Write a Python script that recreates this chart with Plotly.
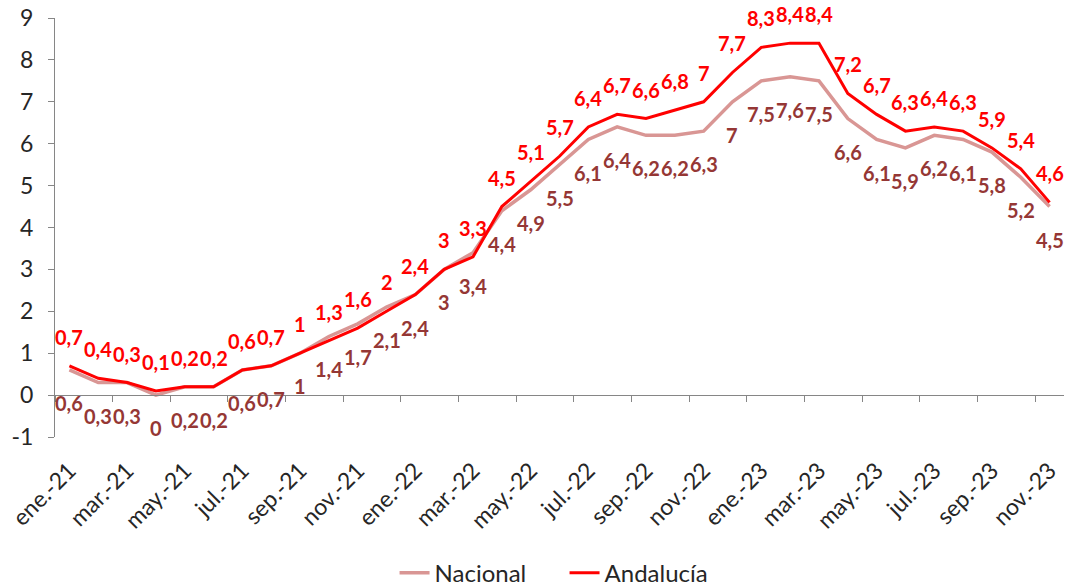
import plotly.graph_objects as go

months = ["ene.-21","feb.-21","mar.-21","abr.-21","may.-21","jun.-21","jul.-21","ago.-21","sep.-21","oct.-21","nov.-21","dic.-21",
          "ene.-22","feb.-22","mar.-22","abr.-22","may.-22","jun.-22","jul.-22","ago.-22","sep.-22","oct.-22","nov.-22","dic.-22",
          "ene.-23","feb.-23","mar.-23","abr.-23","may.-23","jun.-23","jul.-23","ago.-23","sep.-23","oct.-23","nov.-23"]
nacional = [0.6,0.3,0.3,0,0.2,0.2,0.6,0.7,1,1.4,1.7,2.1,
            2.4,3,3.4,4.4,4.9,5.5,6.1,6.4,6.2,6.2,6.3,7,
            7.5,7.6,7.5,6.6,6.1,5.9,6.2,6.1,5.8,5.2,4.5]
andalucia = [0.7,0.4,0.3,0.1,0.2,0.2,0.6,0.7,1,1.3,1.6,2,
             2.4,3,3.3,4.5,5.1,5.7,6.4,6.7,6.6,6.8,7,7.7,
             8.3,8.4,8.4,7.2,6.7,6.3,6.4,6.3,5.9,5.4,4.6]
tick_labels = months[::2]
y_ticks = [-1, 0, 1, 2, 3, 4, 5, 6, 7, 8, 9]
y_tick_text = ["-1", "0", "1", "2", "3", "4", "5", "6", "7", "8", "9"]

NAC_LINE = "#D99694"
NAC_TEXT = "#953735"
AND_COL = "#FF0000"
AXIS_COL = "#868686"
TXT = "#262626"
FONT = "Lato"

def fmt(v):
    return ("%g" % v).replace(".", ",")

fig = go.Figure()
fig.add_trace(go.Scatter(x=months, y=nacional, mode="lines", name="Nacional",
                         line=dict(color=NAC_LINE, width=3.5)))
fig.add_trace(go.Scatter(x=months, y=andalucia, mode="lines", name="Andalucía",
                         line=dict(color=AND_COL, width=3)))
# invisible trace so the axis crossing at y=0 is rendered
fig.add_trace(go.Scatter(x=months, y=nacional, mode="lines", xaxis="x2",
                         line=dict(width=0, color="rgba(0,0,0,0)"),
                         showlegend=False, hoverinfo="skip"))

annotations = []
for m, v in zip(months, andalucia):
    annotations.append(dict(x=m, y=v, text=fmt(v), showarrow=False, yshift=29,
                            font=dict(family=FONT, size=20, color=AND_COL, weight="bold")))
for m, v in zip(months, nacional):
    annotations.append(dict(x=m, y=v, text=fmt(v), showarrow=False, yshift=-33,
                            font=dict(family=FONT, size=20, color=NAC_TEXT, weight="bold")))

fig.update_layout(
    width=1067, height=586,
    margin=dict(l=55, r=3, t=18, b=149, autoexpand=False),
    paper_bgcolor="white", plot_bgcolor="white",
    font=dict(family=FONT, size=18, color=TXT),
    annotations=annotations,
    showlegend=True,
    legend=dict(orientation="h", x=0.505, xanchor="center", y=-0.325, yanchor="middle",
                font=dict(family=FONT, size=24, color=TXT), entrywidth=125,
                bgcolor="rgba(0,0,0,0)"),
    xaxis=dict(type="category", categoryorder="array", categoryarray=months,
               range=[-0.5, len(months) - 0.5], automargin=False,
               tickmode="array", tickvals=tick_labels, ticktext=tick_labels,
               tickangle=-45, ticks="outside", ticklen=10, tickcolor="rgba(0,0,0,0)",
               ticklabelshift=0, ticklabeloverflow="allow",
               showline=False, showgrid=False, zeroline=False,
               tickfont=dict(family=FONT, size=23, color=TXT)),
    xaxis2=dict(type="category", categoryorder="array", categoryarray=months,
                overlaying="x", matches="x", anchor="free", position=0.1,
                automargin=False,
                tickmode="linear", tick0=0, dtick=2, tickson="boundaries",
                ticks="outside", ticklen=6, tickcolor=AXIS_COL, tickwidth=1,
                showticklabels=False, showline=True, linecolor=AXIS_COL, linewidth=1,
                showgrid=False, zeroline=False),
    yaxis=dict(range=[-1, 9], tickmode="array", tickvals=y_ticks, ticktext=y_tick_text,
               showgrid=False, zeroline=False, automargin=False,
               showline=True, linecolor=AXIS_COL, linewidth=1,
               ticks="outside", ticklen=6, tickcolor=AXIS_COL, ticklabelstandoff=10,
               ticklabeloverflow="allow",
               tickfont=dict(family=FONT, size=23, color=TXT)),
)

fig.write_html("out.html", config={"displayModeBar": False},
               post_script="document.body.style.margin='0';")
